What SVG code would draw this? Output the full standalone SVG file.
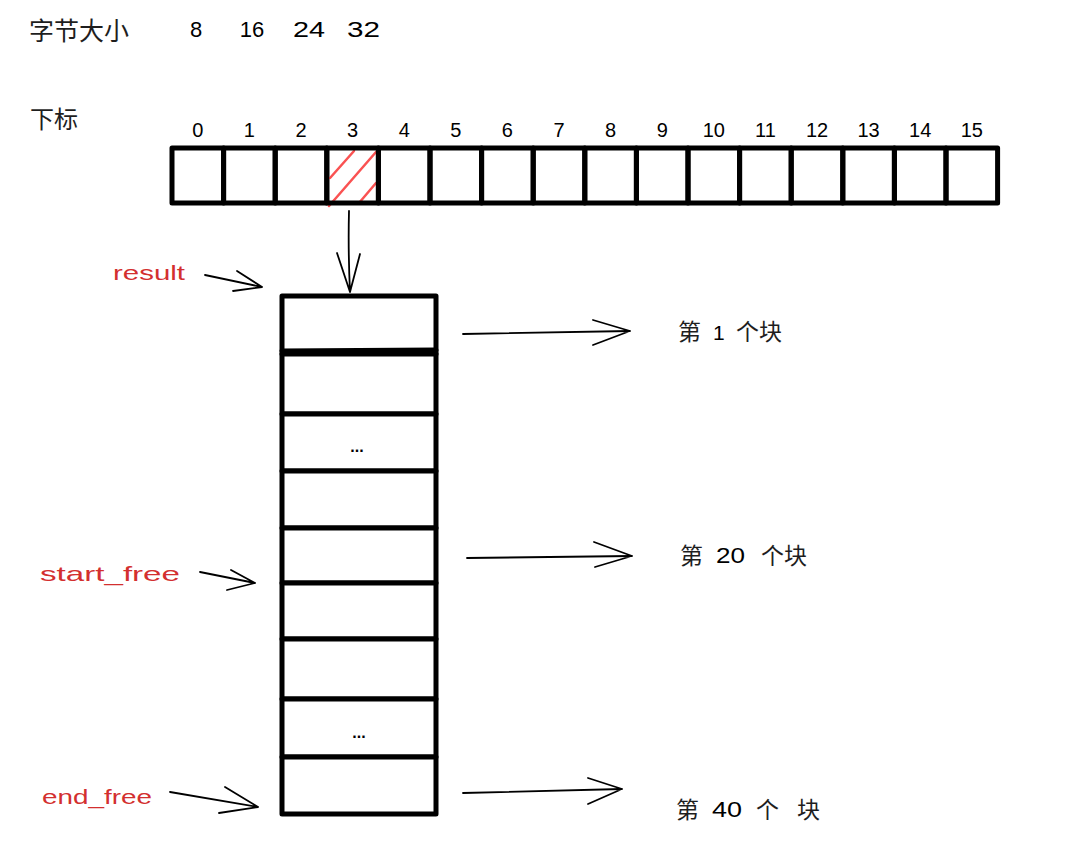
<svg xmlns="http://www.w3.org/2000/svg" width="1069" height="846" viewBox="0 0 1069 846">
<defs>
<style>
.cell{fill:none;stroke:#000;stroke-width:5;stroke-linejoin:round;stroke-linecap:round}
.blk{fill:#fff;stroke:#000;stroke-width:5;stroke-linejoin:round;stroke-linecap:round}
.ln{fill:none;stroke:#000;stroke-width:1.8;stroke-linecap:round;stroke-linejoin:round}
.hatch{fill:none;stroke:#fa5252;stroke-width:2.5;stroke-linecap:round}
.cjk{font-family:"Noto Sans CJK SC","Noto Sans",sans-serif;font-size:23px;fill:#1e1e1e}
.num{font-family:"Liberation Sans","Noto Sans",sans-serif;fill:#000}
.red{font-family:"Liberation Sans","Noto Sans",sans-serif;font-size:21px;fill:#d32f2f}
.dots{font-family:"Liberation Sans",sans-serif;font-size:16px;fill:#000;text-anchor:middle;font-weight:bold}
</style>
</defs>
<rect width="1069" height="846" fill="#fff"/>

<g id="title">
<text class="cjk" x="29" y="40" style="font-size:25px">字节大小</text>
<text class="num" font-size="22" text-anchor="middle" x="196" y="37">8</text>
<text class="num" font-size="22" text-anchor="middle" x="252" y="37">16</text>
<text class="num" font-size="22" x="293" y="37" textLength="32" lengthAdjust="spacingAndGlyphs">24</text>
<text class="num" font-size="22" x="347" y="37" textLength="33" lengthAdjust="spacingAndGlyphs">32</text>
<text class="cjk" x="30" y="128" style="font-size:24px">下标</text>
</g>

<g id="index-labels" class="num" font-size="20" text-anchor="middle">
<text x="197.8" y="137">0</text>
<text x="249.4" y="137">1</text>
<text x="301" y="137">2</text>
<text x="352.6" y="137">3</text>
<text x="404.2" y="137">4</text>
<text x="455.8" y="137">5</text>
<text x="507.4" y="137">6</text>
<text x="559" y="137">7</text>
<text x="610.6" y="137">8</text>
<text x="662.2" y="137">9</text>
<text x="713.8" y="137">10</text>
<text x="765.4" y="137">11</text>
<text x="817" y="137">12</text>
<text x="868.6" y="137">13</text>
<text x="920.2" y="137">14</text>
<text x="971.8" y="137">15</text>
</g>

<g id="index-cells">
<g id="cell0"><rect class="cell" x="172" y="148" width="51.6" height="55"/></g>
<g id="cell1"><rect class="cell" x="223.6" y="148" width="51.6" height="55"/></g>
<g id="cell2"><rect class="cell" x="275.2" y="148" width="51.6" height="55"/></g>
<g id="cell3">
<path class="hatch" d="M330 178 L354 151 M329 206 L376 152 M359 203 L376 183"/>
<rect class="cell" x="326.8" y="148" width="51.6" height="55"/>
</g>
<g id="cell4"><rect class="cell" x="378.4" y="148" width="51.6" height="55"/></g>
<g id="cell5"><rect class="cell" x="430" y="148" width="51.6" height="55"/></g>
<g id="cell6"><rect class="cell" x="481.6" y="148" width="51.6" height="55"/></g>
<g id="cell7"><rect class="cell" x="533.2" y="148" width="51.6" height="55"/></g>
<g id="cell8"><rect class="cell" x="584.8" y="148" width="51.6" height="55"/></g>
<g id="cell9"><rect class="cell" x="636.4" y="148" width="51.6" height="55"/></g>
<g id="cell10"><rect class="cell" x="688" y="148" width="51.6" height="55"/></g>
<g id="cell11"><rect class="cell" x="739.6" y="148" width="51.6" height="55"/></g>
<g id="cell12"><rect class="cell" x="791.2" y="148" width="51.6" height="55"/></g>
<g id="cell13"><rect class="cell" x="842.8" y="148" width="51.6" height="55"/></g>
<g id="cell14"><rect class="cell" x="894.4" y="148" width="51.6" height="55"/></g>
<g id="cell15"><rect class="cell" x="946" y="148" width="51.6" height="55"/></g>
</g>

<g id="blocks">
<g id="block1"><rect class="blk" x="282" y="296" width="154" height="58"/></g>
<g id="block2"><rect class="blk" x="282" y="354" width="154" height="60"/><path class="cell" d="M282 351 L436 350"/></g>
<g id="block3"><rect class="blk" x="282" y="414" width="154" height="57"/><text class="dots" x="357" y="452">...</text></g>
<g id="block4"><rect class="blk" x="282" y="471" width="154" height="57"/></g>
<g id="block5"><rect class="blk" x="282" y="528" width="154" height="55"/></g>
<g id="block6"><rect class="blk" x="282" y="583" width="154" height="56"/></g>
<g id="block7"><rect class="blk" x="282" y="639" width="154" height="60"/></g>
<g id="block8"><rect class="blk" x="282" y="699" width="154" height="58"/><text class="dots" x="359" y="738">...</text></g>
<g id="block9"><rect class="blk" x="282" y="757" width="154" height="57"/></g>
</g>

<g id="pointer-labels">
<text class="red" x="113" y="280" textLength="72" lengthAdjust="spacingAndGlyphs">result</text>
<text class="red" x="40" y="581" textLength="140" lengthAdjust="spacingAndGlyphs">start_free</text>
<text class="red" x="42" y="804" textLength="110" lengthAdjust="spacingAndGlyphs">end_free</text>
</g>

<g id="block-labels">
<g id="label-1"><text class="cjk" x="678" y="340">第</text><text class="num" font-size="21" x="713" y="340">1</text><text class="cjk" x="736" y="340">个块</text></g>
<g id="label-20"><text class="cjk" x="680" y="564">第</text><text class="num" font-size="22" x="716" y="563" textLength="29" lengthAdjust="spacingAndGlyphs">20</text><text class="cjk" x="761" y="564">个块</text></g>
<g id="label-40"><text class="cjk" x="676" y="818">第</text><text class="num" font-size="22" x="712" y="817" textLength="30" lengthAdjust="spacingAndGlyphs">40</text><text class="cjk" x="756" y="818">个</text><text class="cjk" x="797" y="818">块</text></g>
</g>

<g id="connectors">
<path class="ln" d="M349 211 Q348 250 350 292 M337 253 L350 292 L360 254"/>
<path class="ln" d="M205 275 L262 287 M237 271 L262 287 L233 291"/>
<path class="ln" d="M200 572 L255 583 M231 570 L255 583 L227 590"/>
<path class="ln" d="M170 792 L258 807 M225 787 L258 807 L219 813"/>
<path class="ln" d="M463 334 L630 331 M593 320 L630 331 L593 345"/>
<path class="ln" d="M467 558 L632 556 M594 542 L632 556 L595 567"/>
<path class="ln" d="M463 793 L622 789 M588 778 L622 789 L588 804"/>
</g>
</svg>
